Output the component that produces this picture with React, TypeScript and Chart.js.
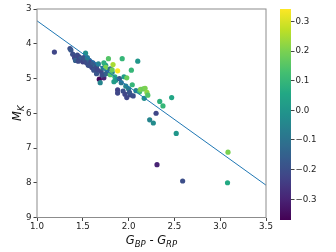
import React, { useEffect, useRef } from "react";
import { Chart, registerables } from "chart.js";
Chart.register(...registerables);

const FONT = "'DejaVu Sans', sans-serif";

// colour (BP-RP), absolute magnitude M_K, colour-coded value
const POINT_X = [
  1.19, 1.36, 1.37, 1.39, 1.41, 1.42, 1.44, 1.46, 1.47, 1.48, 1.50, 1.52, 1.53, 1.54, 1.56, 1.57,
  1.59, 1.60, 1.62, 1.63, 1.65, 1.65, 1.67, 1.68, 1.69, 1.70, 1.72, 1.73, 1.74, 1.75, 1.76, 1.78,
  1.73, 1.75, 1.80, 1.82, 1.83, 1.88, 1.85, 1.86, 1.88, 1.88, 1.90, 1.92, 1.93, 1.94, 1.95, 1.97,
  1.98, 1.98, 2.00, 2.02, 2.03, 2.04, 2.05, 2.08, 2.10, 2.12, 2.13, 2.16, 2.18, 2.20, 2.17, 2.21,
  2.34, 2.375, 2.47, 2.30, 2.23, 2.27, 2.52, 3.085, 2.31, 2.59, 3.08,
  1.45, 1.51, 1.58, 1.61, 1.66, 1.71, 1.77, 1.80, 1.82, 1.84, 1.96, 2.01, 1.55,
];
const POINT_Y = [
  4.24, 4.14, 4.18, 4.30, 4.40, 4.48, 4.33, 4.38, 4.47, 4.42, 4.52, 4.45, 4.27, 4.55, 4.62, 4.48,
  4.53, 4.68, 4.76, 4.60, 4.67, 4.86, 4.58, 5.02, 5.12, 4.80, 4.70, 4.98, 4.88, 4.62, 4.75, 4.43,
  4.55, 4.68, 4.72, 4.82, 4.60, 4.78, 4.95, 5.05, 5.33, 5.42, 5.00, 5.12, 4.43, 5.36, 4.95, 5.22,
  4.98, 5.55, 5.30, 5.47, 4.76, 5.18, 5.50, 5.35, 4.50, 5.38, 5.31, 5.30, 5.28, 5.40, 5.57, 5.48,
  5.66, 5.79, 5.55, 6.00, 6.19, 6.28, 6.58, 7.12, 7.48, 7.95, 8.00,
  4.50, 4.40, 4.63, 4.55, 4.75, 4.90, 4.85, 4.89, 4.75, 5.09, 5.45, 5.40, 4.40,
];
const POINT_C = [
  -0.22, -0.20, -0.18, -0.20, -0.22, -0.15, -0.20, -0.22, -0.20, -0.17, -0.23, -0.20, -0.02, -0.21, -0.20, -0.16,
  -0.22, -0.22, -0.19, -0.12, -0.20, -0.18, -0.05, -0.36, -0.05, -0.22, -0.10, -0.30, -0.13, 0.02, -0.08, 0.15,
  0.08, 0.20, -0.12, -0.05, 0.25, 0.34, 0.08, 0.00, -0.23, -0.22, -0.18, -0.10, 0.10, -0.20, 0.02, -0.05,
  0.18, -0.22, -0.08, -0.22, 0.10, 0.10, -0.20, -0.05, 0.00, 0.12, 0.20, 0.18, 0.20, 0.22, -0.02, 0.15,
  0.08, 0.10, 0.05, -0.22, -0.05, -0.03, 0.00, 0.20, -0.30, -0.20, 0.06,
  -0.21, -0.19, -0.20, -0.17, -0.22, -0.20, -0.15, 0.15, 0.18, 0.02, -0.22, -0.18, -0.08,
];

const FIT_X = [1.0, 3.5];
const FIT_Y = [3.34, 8.07];

const X_TICKS = [1.0, 1.5, 2.0, 2.5, 3.0, 3.5];
const Y_TICKS = [3, 4, 5, 6, 7, 8, 9];
const CB_TICKS = [-0.3, -0.2, -0.1, 0.0, 0.1, 0.2, 0.3];
const C_MIN = -0.37;
const C_MAX = 0.342;

const VIRIDIS = [
  "#440154", "#482475", "#414487", "#355f8d", "#2a788e", "#21918c",
  "#22a884", "#44bf70", "#7ad151", "#bddf26", "#fde725",
];

function hexToRgb(h: string) {
  const n = parseInt(h.slice(1), 16);
  return [(n >> 16) & 255, (n >> 8) & 255, n & 255];
}
function viridis(t: number) {
  const tt = Math.max(0, Math.min(1, t)) * (VIRIDIS.length - 1);
  const i = Math.min(VIRIDIS.length - 2, Math.floor(tt));
  const f = tt - i;
  const a = hexToRgb(VIRIDIS[i]);
  const b = hexToRgb(VIRIDIS[i + 1]);
  const c = a.map((v, k) => Math.round(v + (b[k] - v) * f));
  return `rgb(${c[0]},${c[1]},${c[2]})`;
}

type Part = { t: string; sub?: boolean; it?: boolean };
function drawRich(ctx: CanvasRenderingContext2D, parts: Part[], size: number, subSize: number) {
  const fontOf = (p: Part) => `${p.it ? "italic " : ""}${p.sub ? subSize : size}px ${FONT}`;
  let total = 0;
  const widths = parts.map((p) => {
    ctx.font = fontOf(p);
    const w = ctx.measureText(p.t).width;
    total += w;
    return w;
  });
  let x = -total / 2;
  ctx.textBaseline = "alphabetic";
  ctx.textAlign = "left";
  parts.forEach((p, i) => {
    ctx.font = fontOf(p);
    ctx.fillText(p.t, x, p.sub ? size * 0.28 : 0);
    x += widths[i];
  });
}

const framePlugin = {
  id: "frameTitles",
  afterDraw(chart: any) {
    const { ctx, chartArea } = chart;
    ctx.save();
    ctx.strokeStyle = "#8c8c8c";
    ctx.lineWidth = 1;
    ctx.strokeRect(chartArea.left, chartArea.top, chartArea.right - chartArea.left, chartArea.bottom - chartArea.top);
    ctx.fillStyle = "#111";
    ctx.save();
    ctx.translate((chartArea.left + chartArea.right) / 2, 244);
    drawRich(ctx, [
      { t: "G", it: true }, { t: "BP", it: true, sub: true }, { t: " - " },
      { t: "G", it: true }, { t: "RP", it: true, sub: true },
    ], 11.5, 8.5);
    ctx.restore();
    ctx.save();
    ctx.translate(21, (chartArea.top + chartArea.bottom) / 2);
    ctx.rotate(-Math.PI / 2);
    drawRich(ctx, [{ t: "M", it: true }, { t: "K", it: true, sub: true }], 11.5, 8.5);
    ctx.restore();
    ctx.restore();
  },
};

const gradientPlugin = {
  id: "cbGradient",
  beforeDatasetsDraw(chart: any) {
    const { ctx, chartArea } = chart;
    const g = ctx.createLinearGradient(0, chartArea.bottom, 0, chartArea.top);
    for (let i = 0; i <= 40; i++) g.addColorStop(i / 40, viridis(i / 40));
    ctx.save();
    ctx.fillStyle = g;
    ctx.fillRect(chartArea.left, chartArea.top, chartArea.right - chartArea.left, chartArea.bottom - chartArea.top);
    ctx.restore();
  },
};

const tickFont = { family: FONT, size: 8.7 };

export default function App() {
  const mainRef = useRef<HTMLCanvasElement>(null);
  const cbRef = useRef<HTMLCanvasElement>(null);

  useEffect(() => {
    const pts = POINT_X.map((x, i) => ({ x, y: POINT_Y[i] }));
    const colors = POINT_C.map((c) => viridis((c - C_MIN) / (C_MAX - C_MIN)));
    const fit = FIT_X.map((x, i) => ({ x, y: FIT_Y[i] }));

    const main = new Chart(mainRef.current!, {
      type: "scatter",
      data: {
        datasets: [
          {
            type: "line",
            data: fit,
            borderColor: "#1f77b4",
            borderWidth: 1,
            pointRadius: 0,
            fill: false,
            order: 0,
          } as any,
          {
            data: pts,
            backgroundColor: colors,
            borderWidth: 0,
            pointRadius: 2.6,
            order: 1,
          },
        ],
      },
      options: {
        animation: false,
        responsive: false,
        maintainAspectRatio: false,
        layout: { padding: { top: 9, right: 70, left: 0, bottom: 0 } },
        plugins: { legend: { display: false }, tooltip: { enabled: false } },
        scales: {
          x: {
            type: "linear",
            min: 1.0,
            max: 3.5,
            afterBuildTicks: (s: any) => { s.ticks = X_TICKS.map((v) => ({ value: v })); },
            afterFit: (s: any) => { s.height = 34.5; },
            border: { display: false },
            grid: { drawOnChartArea: false, drawTicks: true, tickLength: 3.5, tickColor: "#444" },
            ticks: { padding: 1, color: "#222", font: tickFont, maxRotation: 0, autoSkip: false,
              callback: (v: any) => Number(v).toFixed(1) },
          },
          y: {
            type: "linear",
            reverse: true,
            min: 3,
            max: 9,
            afterBuildTicks: (s: any) => { s.ticks = Y_TICKS.map((v) => ({ value: v })); },
            afterFit: (s: any) => { s.width = 37; },
            border: { display: false },
            grid: { drawOnChartArea: false, drawTicks: true, tickLength: 3.5, tickColor: "#444" },
            ticks: { padding: 2, color: "#222", font: tickFont, autoSkip: false,
              callback: (v: any) => String(Math.round(Number(v))) },
          },
        },
      },
      plugins: [framePlugin],
    });

    const cb = new Chart(cbRef.current!, {
      type: "scatter",
      data: { datasets: [{ data: [] }] },
      options: {
        animation: false,
        responsive: false,
        maintainAspectRatio: false,
        layout: { padding: { top: 9, left: 10, bottom: 32, right: 0 } },
        plugins: { legend: { display: false }, tooltip: { enabled: false } },
        scales: {
          x: { display: false, min: 0, max: 1 },
          y: {
            type: "linear",
            position: "right",
            min: C_MIN,
            max: C_MAX,
            afterBuildTicks: (s: any) => { s.ticks = CB_TICKS.map((v) => ({ value: v })); },
            afterFit: (s: any) => { s.width = 45; },
            border: { display: false },
            grid: { drawOnChartArea: false, drawTicks: true, tickLength: 3.5, tickColor: "#444" },
            ticks: { padding: 1, color: "#222", font: tickFont, autoSkip: false,
              callback: (v: any) => {
                const n = Number(v);
                const s = Math.abs(n).toFixed(1);
                return n < -1e-9 ? "\u2212" + s : s;
              } },
          },
        },
      },
      plugins: [gradientPlugin],
    });

    return () => { main.destroy(); cb.destroy(); };
  }, []);

  return (
    <div style={{ position: "fixed", left: 0, top: 0, width: 336, height: 252, background: "#fff" }}>
      <canvas ref={mainRef} width={336} height={252}
        style={{ position: "absolute", left: 0, top: 0, width: 336, height: 252 }} />
      <canvas ref={cbRef} width={66} height={252}
        style={{ position: "absolute", left: 270, top: 0, width: 66, height: 252 }} />
    </div>
  );
}
